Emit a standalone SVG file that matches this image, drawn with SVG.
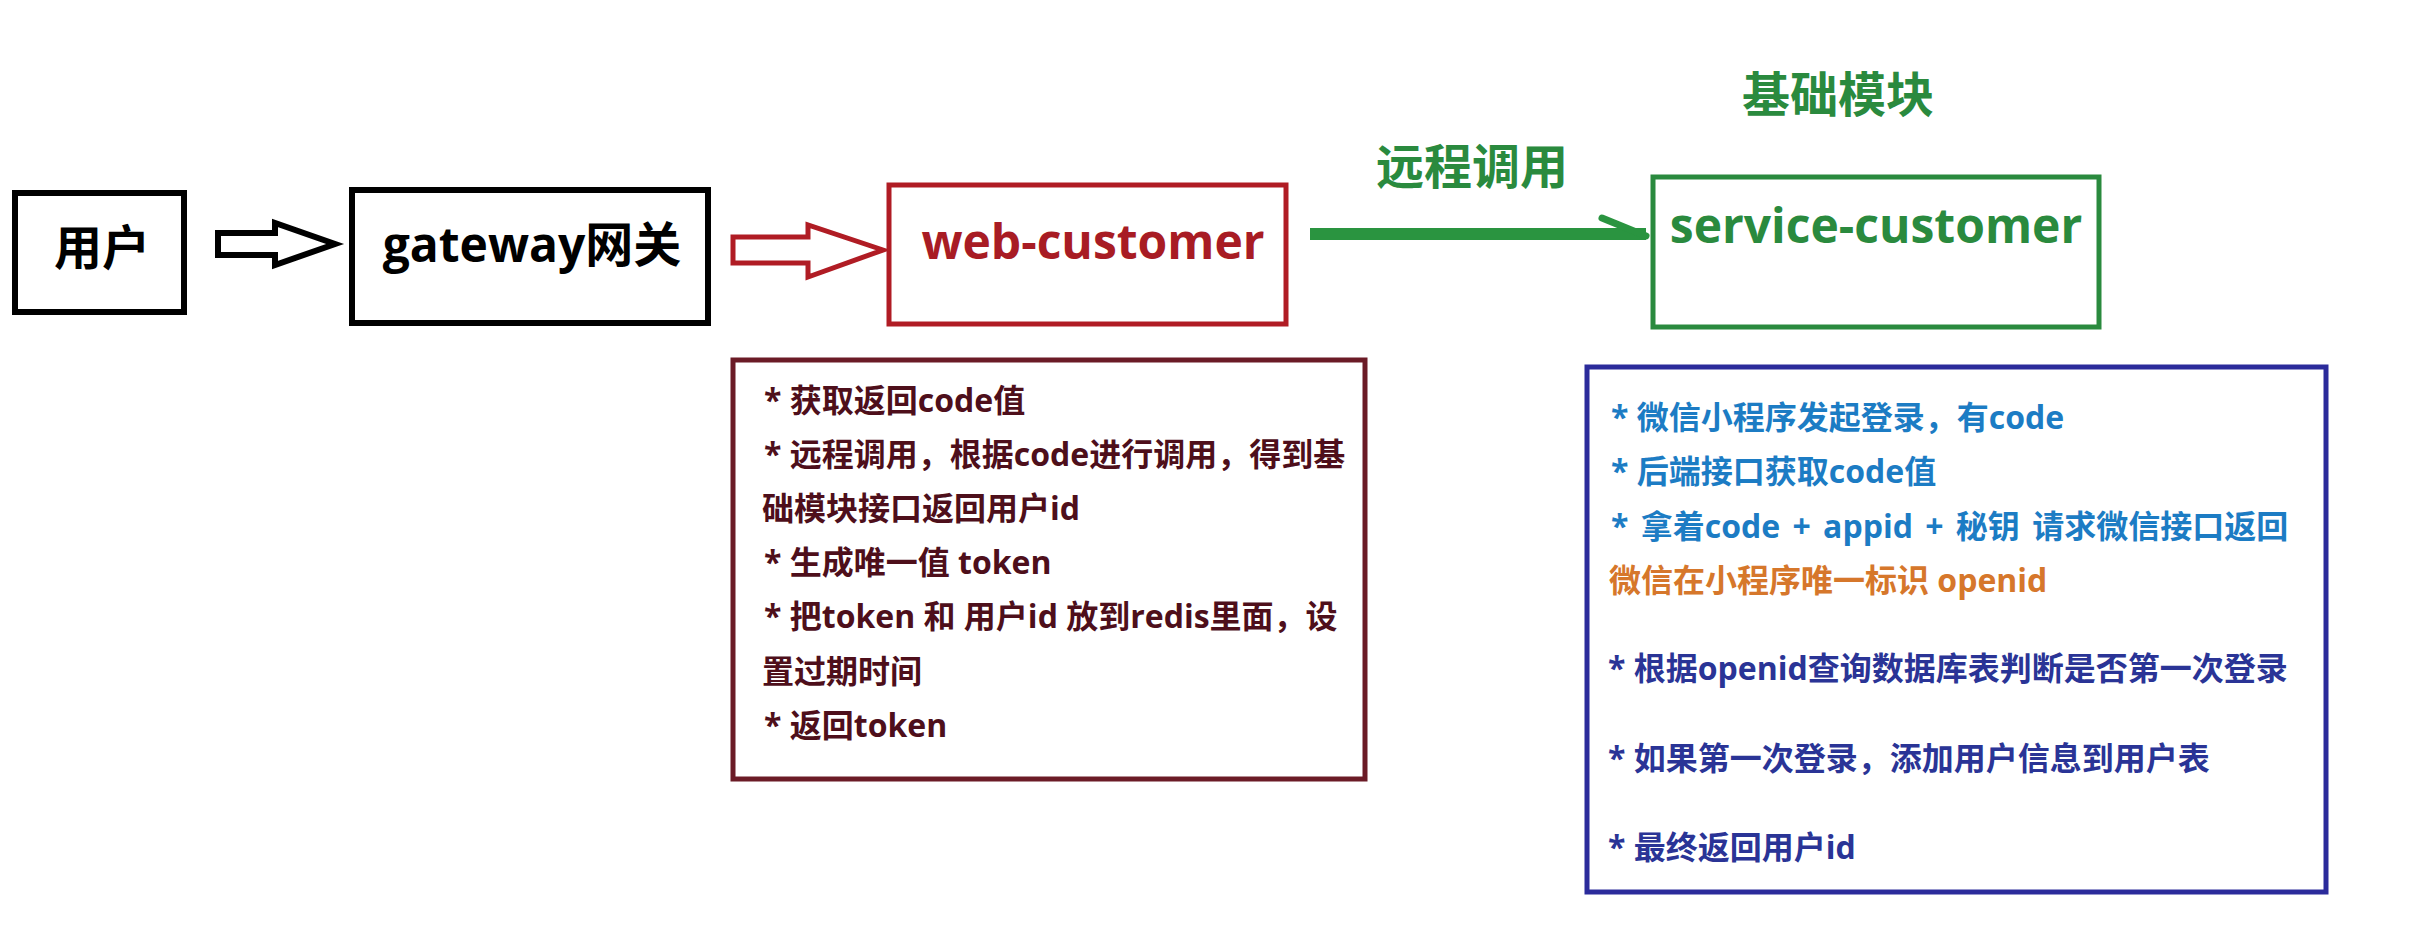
<svg xmlns="http://www.w3.org/2000/svg" width="2410" height="934" viewBox="0 0 2410 934">
<style>
text{font-family:'Open Sans','Noto Sans CJK SC',sans-serif;font-weight:700}
.title{font-size:48px}
.mid{text-anchor:middle}
.body{font-size:32px}
.box{fill:#fff}
.mar{fill:#4e0f1b}
.lb{fill:#1c7cc4}
.or{fill:#d6772b}
.nv{fill:#2a3496}
</style>
<rect width="2410" height="934" fill="#fff"/>
<g id="connectors">
<path id="arrow1" d="M218 233 H275 V223 L335 244 L275 265 V255 H218 Z" fill="#fff" stroke="#000" stroke-width="6" stroke-linejoin="miter"/>
<path id="arrow2" d="M733 237 H808 V225 L883 250 L808 277 V263 H733 Z" fill="#fff" stroke="#b01c24" stroke-width="5" stroke-linejoin="miter"/>
<g id="arrow3" stroke="#2a9440" fill="none">
<line x1="1310" y1="234" x2="1646" y2="234" stroke-width="12"/>
<line x1="1602" y1="218" x2="1646" y2="236" stroke-width="7" stroke-linecap="round"/>
</g>
<text class="title mid" x="1472" y="184" fill="#2a8a3e">远程调用</text>
</g>
<g id="user">
<rect class="box" x="15" y="193" width="169" height="119" stroke="#000" stroke-width="6"/>
<text class="title mid" x="102" y="265" fill="#000">用户</text>
</g>
<g id="gateway">
<rect class="box" x="352" y="190" width="356" height="133" stroke="#000" stroke-width="6"/>
<text class="title mid" x="532" y="262" fill="#000">gateway网关</text>
</g>
<g id="web-customer">
<rect class="box" x="889" y="185" width="397" height="139" stroke="#b01c24" stroke-width="5"/>
<text class="title mid" x="1093" y="259" fill="#a81c24">web-customer</text>
</g>
<g id="service-customer">
<text class="title mid" x="1838" y="112" fill="#2a8a3e">基础模块</text>
<rect class="box" x="1653" y="177" width="446" height="150" stroke="#2a8a3e" stroke-width="5"/>
<text class="title mid" x="1876" y="243" fill="#2a8a3e">service-customer</text>
</g>
<g id="web-notes">
<rect class="box" x="733" y="360" width="632" height="419" stroke="#6b1b26" stroke-width="5"/>
<text class="body mar" x="764" y="412">* 获取返回code值</text>
<text class="body mar" x="764" y="466">* 远程调用，根据code进行调用，得到基</text>
<text class="body mar" x="762" y="520">础模块接口返回用户id</text>
<text class="body mar" x="764" y="574">* 生成唯一值 token</text>
<text class="body mar" x="764" y="628">* 把token 和 用户id 放到redis里面，设</text>
<text class="body mar" x="762" y="683">置过期时间</text>
<text class="body mar" x="764" y="737">* 返回token</text>
</g>
<g id="service-notes">
<rect class="box" x="1587" y="367" width="739" height="525" stroke="#2b2b9b" stroke-width="5"/>
<text class="body lb" x="1611" y="429">* 微信小程序发起登录，有code</text>
<text class="body lb" x="1611" y="483">* 后端接口获取code值</text>
<text class="body lb" x="1611" y="538" word-spacing="4">* 拿着code + appid + 秘钥 请求微信接口返回</text>
<text class="body or" x="1609" y="592">微信在小程序唯一标识 openid</text>
<text class="body nv" x="1608" y="680">* 根据openid查询数据库表判断是否第一次登录</text>
<text class="body nv" x="1608" y="770">* 如果第一次登录，添加用户信息到用户表</text>
<text class="body nv" x="1608" y="859">* 最终返回用户id</text>
</g>
</svg>
